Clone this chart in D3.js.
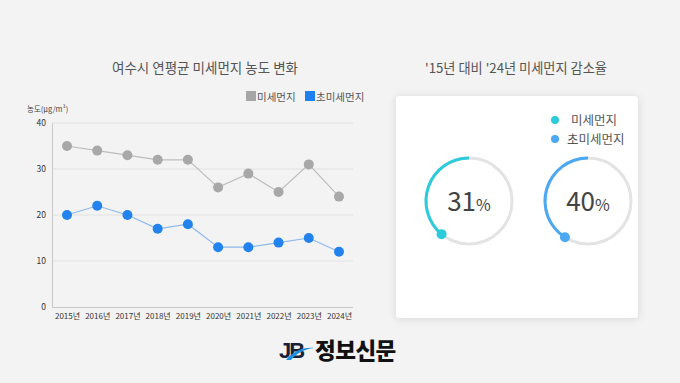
<!DOCTYPE html>
<html><head><meta charset="utf-8">
<script src="https://cdn.jsdelivr.net/npm/d3@7"></script>
<style>
html,body{margin:0;padding:0;background:#f3f3f3;}
svg{display:block;font-family:"Noto Sans CJK KR","Noto Sans",sans-serif;}
</style></head>
<body>
<svg id="c" width="680" height="383"></svg>
<script>
const years = ["2015년","2016년","2017년","2018년","2019년","2020년","2021년","2022년","2023년","2024년"];
const pm10 = [35,34,33,32,32,26,29,25,31,24];
const pm25 = [20,22,20,17,18,13,13,14,15,12];
const yTicks = [0,10,20,30,40];
const seriesNames = ["미세먼지","초미세먼지"];
const reduction = [31,40];
const ringShare = [39,41]; // drawn share of ring as it appears in picture

const svg = d3.select("#c");
const defs = svg.append("defs");
const f = defs.append("filter").attr("id","sh").attr("x","-20%").attr("y","-20%").attr("width","140%").attr("height","140%");
f.append("feDropShadow").attr("dx",0).attr("dy",1).attr("stdDeviation",4).attr("flood-color","#000").attr("flood-opacity",0.12);

// Left chart
const x = d3.scalePoint().domain(years).range([67,339]);
const y = d3.scaleLinear().domain([0,40]).range([307,123]);

svg.append("text").attr("x",205).attr("y",73).attr("text-anchor","middle")
  .attr("font-size",13.5).attr("fill","#555").text("여수시 연평균 미세먼지 농도 변화");

// grid
svg.append("g").selectAll("line").data(yTicks.filter(d=>d>0)).join("line")
  .attr("x1",52).attr("x2",353).attr("y1",d=>y(d)).attr("y2",d=>y(d))
  .attr("stroke","#e2e2e2").attr("stroke-width",1);

const yAxis = svg.append("g").attr("transform","translate(52,0)")
  .call(d3.axisLeft(y).tickValues(yTicks).tickSize(0).tickPadding(6));
yAxis.select(".domain").attr("stroke","#c8c8c8");
yAxis.selectAll("text").attr("font-size",8.5).attr("fill","#333").attr("font-family","'Noto Sans CJK KR',sans-serif");

const xAxis = svg.append("g").attr("transform","translate(0,307)")
  .call(d3.axisBottom(x).tickSize(0).tickPadding(6));
xAxis.select(".domain").attr("d","M52,0.5H353").attr("stroke","#c8c8c8");
xAxis.selectAll("text").attr("font-size",8).attr("fill","#333").attr("font-family","'Noto Sans CJK KR',sans-serif");

svg.append("text").attr("x",27).attr("y",112).attr("font-size",7.5).attr("fill","#444")
  .text("농도(μg/m³)");

// legend
const legCols = ["#a6a6a6","#1e7ff0"];
const legX = [246,305];
seriesNames.forEach((n,i)=>{
  svg.append("rect").attr("x",legX[i]).attr("y",91).attr("width",10).attr("height",10).attr("fill",legCols[i]);
  svg.append("text").attr("x",legX[i]+11).attr("y",100.5).attr("font-size",10.5).attr("fill","#555").text(n);
});

const line = d3.line().x((d,i)=>x(years[i])).y(d=>y(d));
const series = [
  {v:pm10, line:"#bdbdbd", pt:"#a8a8a8"},
  {v:pm25, line:"#8db9ec", pt:"#2282ee"}
];
series.forEach(s=>{
  svg.append("path").datum(s.v).attr("d",line).attr("fill","none").attr("stroke",s.line).attr("stroke-width",1.2);
  svg.append("g").selectAll("circle").data(s.v).join("circle")
    .attr("cx",(d,i)=>x(years[i])).attr("cy",d=>y(d)).attr("r",5).attr("fill",s.pt);
});

// Right panel
svg.append("text").attr("x",516).attr("y",73).attr("text-anchor","middle")
  .attr("font-size",13.2).attr("fill","#555").text("'15년 대비 '24년 미세먼지 감소율");

svg.append("rect").attr("x",396).attr("y",96).attr("width",242).attr("height",222)
  .attr("rx",4).attr("fill","#fff").attr("filter","url(#sh)");

const ringCols = ["#2ccbdb","#4aa9f2"];
// card legend
seriesNames.forEach((n,i)=>{
  svg.append("circle").attr("cx",555).attr("cy",120+i*19).attr("r",4).attr("fill",ringCols[i]);
  svg.append("text").attr("x",i===0?571:567).attr("y",124.5+i*19).attr("font-size",12.5).attr("fill","#555").text(n);
});

const centers = [[469,201],[588,201]];
const R = 43;
const ang = d3.scaleLinear().domain([0,100]).range([0,-2*Math.PI]);
reduction.forEach((v,i)=>{
  const g = svg.append("g").attr("transform",`translate(${centers[i][0]},${centers[i][1]})`);
  g.append("circle").attr("r",R).attr("fill","none").attr("stroke","#e3e3e3").attr("stroke-width",3);
  const a = ang(ringShare[i]);
  g.append("path").attr("d",d3.arc().innerRadius(R-1.5).outerRadius(R+1.5).startAngle(0).endAngle(a)())
    .attr("fill",ringCols[i]);
  g.append("circle").attr("cx",R*Math.sin(a)).attr("cy",-R*Math.cos(a)).attr("r",5).attr("fill",ringCols[i]);
  const t = g.append("text").attr("text-anchor","middle").attr("y",10).attr("fill","#444");
  t.append("tspan").attr("font-size",26).text(v);
  t.append("tspan").attr("font-size",16).text("%");
});

// Logo
const logo = svg.append("g");
logo.append("text").attr("x",279).attr("y",358).attr("font-size",22).attr("font-weight","bold")
  .attr("fill","#1a1f3a").attr("letter-spacing","-2").attr("font-family","'Liberation Sans',sans-serif").text("JB");
logo.append("path").attr("d","M286,360 C294,351 303,347 314,348 C304,349 296,354 291,360 Z").attr("fill","#1e8fe0");
logo.append("text").attr("x",315).attr("y",359).attr("font-size",22.5).attr("font-weight","900")
  .attr("fill","#111").attr("letter-spacing","-0.5").text("정보신문");
</script>
</body></html>
